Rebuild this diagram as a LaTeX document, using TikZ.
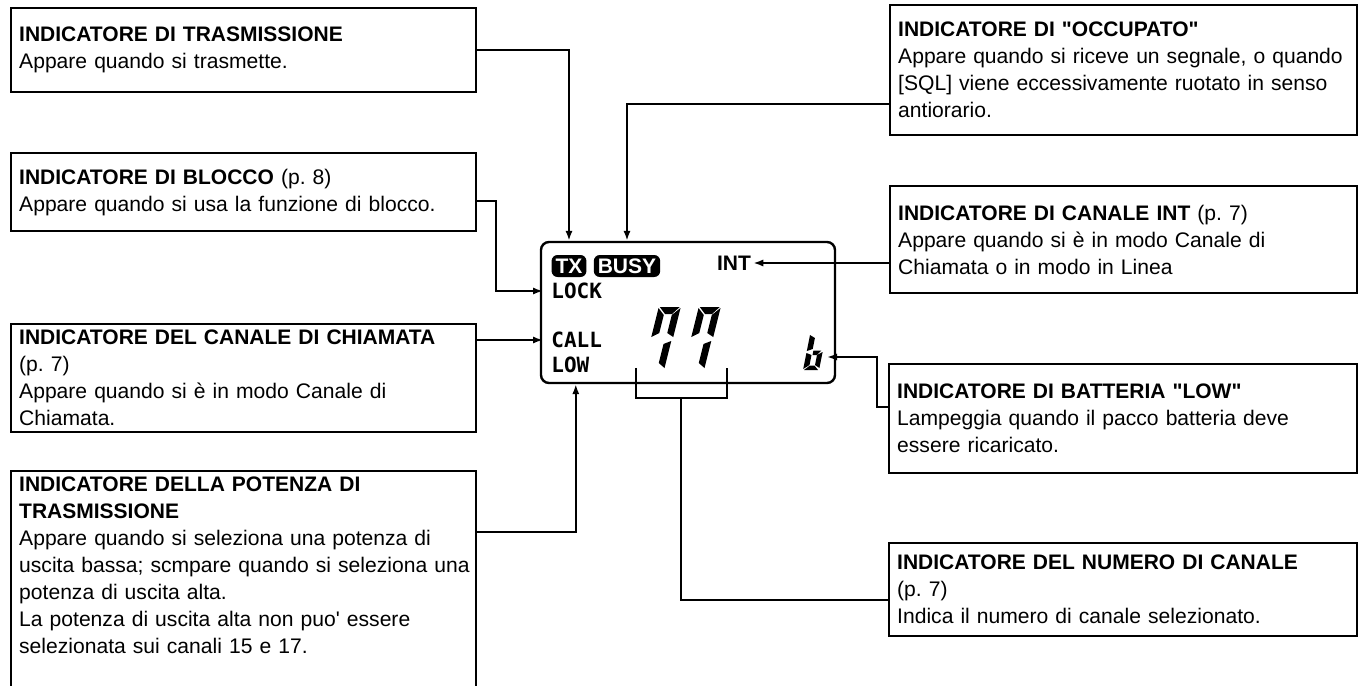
\documentclass[tikz,border=0pt]{standalone}
\usepackage{fontspec}
\setmainfont{Liberation Sans}
\newfontfamily\lcdfont{DejaVu Sans Mono}
\usetikzlibrary{arrows.meta,calc}

\newcommand{\ttl}[1]{{\fontsize{10.5}{13.5}\selectfont\bfseries #1}}

\tikzset{
  infobox/.style={draw, line width=1.2pt, anchor=north west, inner xsep=4pt, inner ysep=3pt,
    align=left, text width=224.5pt, font=\fontsize{10.55}{13.5}\selectfont\frenchspacing},
  link/.style={line width=1pt},
  arr/.style={link, -{Latex[length=5pt,width=3.6pt]}},
  badge/.style={fill=black, text=white, rounded corners=3pt, inner xsep=2pt, inner ysep=0pt,
    minimum height=11pt, font=\bfseries\fontsize{10.5}{10.5}\selectfont},
  lcdlbl/.style={anchor=west, inner xsep=4pt, inner ysep=1pt,
    font=\lcdfont\bfseries\fontsize{10.5}{10.5}\selectfont},
}

\begin{document}
\begin{tikzpicture}[x=0.5pt, y=-0.5pt]
    \clip (0,0) rectangle (1362,686);

    % riquadri a sinistra
    \node[infobox, minimum height=42pt] (txbox) at (10,7)
        {\ttl{INDICATORE DI TRASMISSIONE}\\Appare quando si trasmette.};
    \node[infobox, minimum height=39pt] (bloccobox) at (10,152)
        {\ttl{INDICATORE DI BLOCCO} (p. 8)\\Appare quando si usa la funzione di blocco.};
    \node[infobox, minimum height=54pt] (callbox) at (10,323)
        {\ttl{INDICATORE DEL CANALE DI CHIAMATA}\\(p. 7)\\Appare quando si è in modo Canale di\\Chiamata.};
    \node[infobox] (potbox) at (10,470)
        {\ttl{INDICATORE DELLA POTENZA DI}\\\ttl{TRASMISSIONE}\\Appare quando si seleziona una potenza di\\\mbox{uscita bassa; scmpare quando si seleziona una}\\potenza di uscita alta.\\La potenza di uscita alta non puo\textquotesingle{} essere\\selezionata sui canali 15 e 17.\\\rule{0pt}{30pt}};

    % riquadri a destra
    \node[infobox, text width=225.5pt, minimum height=65pt] (busybox) at (889,4)
        {\ttl{INDICATORE DI \textquotedbl OCCUPATO\textquotedbl}\\Appare quando si riceve un segnale, o quando\\{[SQL]} viene eccessivamente ruotato in senso\\antiorario.};
    \node[infobox, text width=225.5pt, minimum height=53.5pt] (intbox) at (889,185)
        {\ttl{INDICATORE DI CANALE INT} (p. 7)\\Appare quando si è in modo Canale di\\Chiamata o in modo in Linea};
    \node[infobox, text width=226pt, minimum height=54.5pt] (battbox) at (888,363)
        {\ttl{INDICATORE DI BATTERIA \textquotedbl LOW\textquotedbl}\\Lampeggia quando il pacco batteria deve\\essere ricaricato.};
    \node[infobox, text width=226pt, minimum height=46.5pt] (numbox) at (888,542)
        {\ttl{INDICATORE DEL NUMERO DI CANALE}\\(p. 7)\\Indica il numero di canale selezionato.};

    % display
    \node[draw, line width=1.2pt, rounded corners=4pt, minimum width=147pt, minimum height=70.5pt,
        inner sep=0pt] (lcd) at (688,312.5) {};
    \node[badge] (txb) at (569,266) {TX};
    \node[badge] (busyb) at (627,266) {BUSY};
    \node[font=\bfseries\fontsize{10.5}{10.5}\selectfont, inner sep=1pt] (int) at (734,263) {INT};
    \node[lcdlbl] (lock) at (543,291) {LOCK};
    \node[lcdlbl] (call) at (543,340) {CALL};
    \node[lcdlbl] (low) at (543,365) {LOW};
    \node[inner sep=0pt, minimum width=38.5pt, minimum height=31.5pt] (num77) at (681,338) {};
    \coordinate (btip) at (827,357);

    % cifre a sette segmenti
    \foreach \dx in {0,40} {
        \begin{scope}[shift={(643+\dx,370)}, x=0.5pt, y=0.5pt, xslant=0.25]
            \fill (1,63) -- (21,63) -- (15,56) -- (8,56) -- cycle;
            \fill (0,62) -- (7,55) -- (7,37) -- (0,33) -- cycle;
            \fill (22,62) -- (22,33) -- (15,37) -- (15,55) -- cycle;
            \fill (21,29) -- (21,2) -- (14,7) -- (14,26) -- cycle;
        \end{scope}
    }
    \begin{scope}[shift={(803,370)}, x=0.5pt, y=0.5pt, xslant=0.2]
        \fill (0,35) -- (5.5,32) -- (5.5,21) -- (0,19) -- cycle;
        \fill (0,17) -- (5.5,15) -- (5.5,5) -- (0,1) -- cycle;
        \fill (6.5,19.5) -- (14.5,19.5) -- (11,15) -- (6.5,15) -- cycle;
        \fill (16,18) -- (16,2) -- (11,5) -- (11,15) -- cycle;
        \fill (1,0) -- (15,0) -- (10.5,4.5) -- (6,4.5) -- cycle;
    \end{scope}

    % collegamenti
    \draw[arr] (txbox.east) -| (txb.north |- lcd.north);
    \draw[arr] ($(busybox.south west)+(0,-32)$) -| (busyb.north |- lcd.north);
    \draw[arr] ($(bloccobox.south east)+(0,-31)$) -- ++(19,0) |- (lock.west);
    \draw[arr] (callbox.east |- call.west) -- (call.west);
    \draw[arr] ($(potbox.north east)+(0,62)$) -| ($(lcd.south west)+(36,0)$);
    \draw[arr] (intbox.west |- int.east) -- (int.east);
    \draw[arr] ($(battbox.north west)+(0,44)$) -- ++(-11,0) |- (btip);
    \draw[link] ($(num77.south west)+(-6,-2)$) -- ++(0,30) -| ($(num77.south east)+(7,-2)$);
    \draw[link] ($(num77.south)+(0,28)$) |- ($(numbox.south west)+(0,-37)$);
\end{tikzpicture}
\end{document}
